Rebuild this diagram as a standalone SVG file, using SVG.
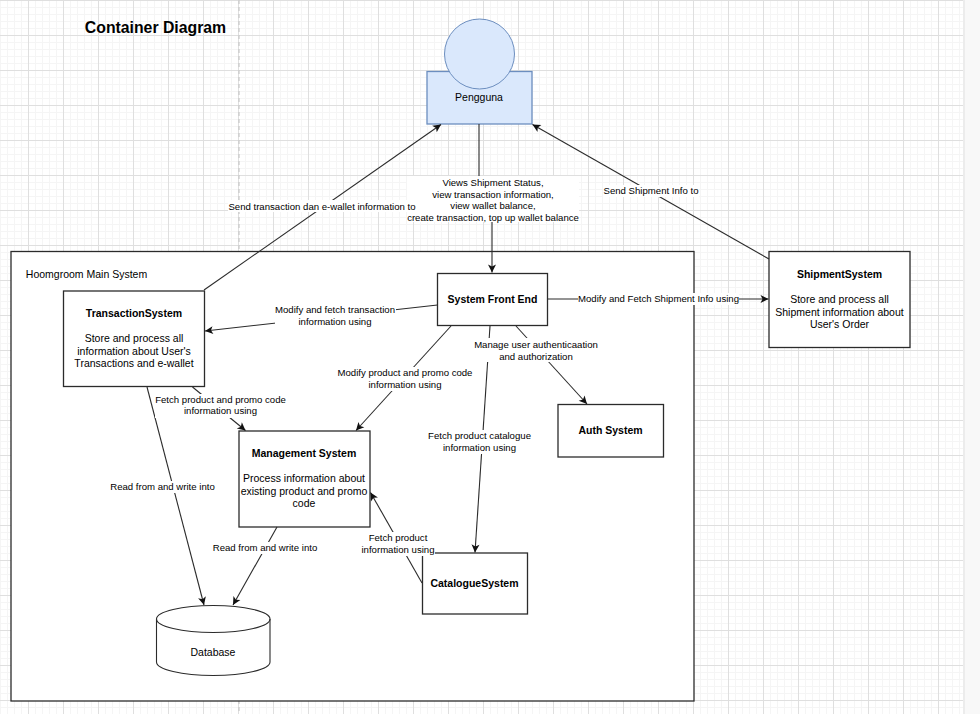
<svg xmlns="http://www.w3.org/2000/svg" width="980" height="714" viewBox="0 0 980 714">
<style>
text{font-family:"Liberation Sans",Arial,sans-serif;font-size:10.5px;fill:#000;text-anchor:middle}
.t{font-weight:bold}
.l{font-size:9.6px}
.b{fill:#fff;stroke:#2b2b2b;stroke-width:1.3}
.c{fill:none;stroke:#2b2b2b;stroke-width:1.1;marker-end:url(#arrow)}
.bg{fill:#fff}
</style>
<defs>
<marker id="arrow" markerUnits="userSpaceOnUse" markerWidth="10" markerHeight="10" refX="8.5" refY="4.5" orient="auto">
<path d="M8.5,4.5 L0.5,0.5 L2.5,4.5 L0.5,8.5 Z" fill="#111"/>
</marker>
<pattern id="grid" x="0" y="0" width="7" height="7" patternUnits="userSpaceOnUse">
<rect x="0" y="0" width="7" height="1" fill="#f5f5f5"/>
<rect x="0" y="0" width="1" height="7" fill="#f5f5f5"/>
</pattern>
<pattern id="major" x="28" y="0" width="35" height="35" patternUnits="userSpaceOnUse">
<rect x="0" y="0" width="35" height="1" fill="#dfdfdf"/>
<rect x="0" y="0" width="1" height="35" fill="#dfdfdf"/>
</pattern>
</defs>
<g id="background">
<rect width="980" height="714" fill="#fff"/>
<rect width="963" height="714" fill="url(#grid)"/>
<rect width="963" height="714" fill="url(#major)"/>
<rect x="963" y="0" width="2" height="714" fill="#ececec"/>
<rect x="965" y="0" width="15" height="714" fill="#f8f8f8"/>
<line x1="239" y1="0" x2="239" y2="714" stroke="#c9c9c9" stroke-width="1.2" stroke-dasharray="4 3"/>
</g>
<text x="155.500" y="33" class="t" style="font-size:15.8px">Container Diagram</text>
<g id="main-system">
<rect x="11" y="251.500" width="683" height="449.500" class="b"/>
<text x="86.500" y="278">Hoomgroom Main System</text>
</g>
<g id="pengguna">
<rect x="427" y="71.500" width="105" height="52.500" fill="#dae8fc" stroke="#6c8ebf" stroke-width="1.300"/>
<circle cx="479.500" cy="54" r="35" fill="#dae8fc" stroke="#6c8ebf" stroke-width="1"/>
<text x="479" y="101">Pengguna</text>
</g>
<g id="transaction-system">
<rect x="63.500" y="291" width="141" height="95.500" class="b"/>
<text x="134" y="316.500" class="t">TransactionSystem</text>
<text x="134" y="342">Store and process all</text>
<text x="134" y="355">information about User's</text>
<text x="134" y="367">Transactions and e-wallet</text>
</g>
<g id="front-end">
<rect x="437.500" y="273.500" width="110" height="52" class="b"/>
<text x="492.500" y="303" class="t">System Front End</text>
</g>
<g id="management-system">
<rect x="239" y="431" width="131" height="96" class="b"/>
<text x="304" y="457" class="t">Management System</text>
<text x="304" y="482">Process information about</text>
<text x="304" y="495">existing product and promo</text>
<text x="304" y="507">code</text>
</g>
<g id="auth-system">
<rect x="558" y="404.500" width="105.500" height="52.500" class="b"/>
<text x="610.500" y="434" class="t">Auth System</text>
</g>
<g id="catalogue-system">
<rect x="422.500" y="553" width="105" height="61" class="b"/>
<text x="474.500" y="587" class="t">CatalogueSystem</text>
</g>
<g id="shipment-system">
<rect x="769" y="251.500" width="141" height="96" class="b"/>
<text x="839.500" y="278" class="t">ShipmentSystem</text>
<text x="839.500" y="303">Store and process all</text>
<text x="839.500" y="316">Shipment information about</text>
<text x="839.500" y="328">User's Order</text>
</g>
<g id="database">
<path d="M156.500,619 A56.750,13.500 0 0 1 270,619 V662 A56.750,13.500 0 0 1 156.500,662 Z" fill="#fff" stroke="#2b2b2b" stroke-width="1.100"/>
<path d="M156.500,619 A56.750,13.500 0 0 0 270,619" fill="none" stroke="#2b2b2b" stroke-width="1.100"/>
<text x="213" y="656">Database</text>
</g>
<g id="connectors">
<line x1="204" y1="290" x2="441" y2="124.500" class="c"/>
<polyline points="479,124 479,198 492,198 492,272.500" class="c"/>
<line x1="769" y1="259" x2="532.500" y2="124.500" class="c"/>
<line x1="547.500" y1="299" x2="768.500" y2="299" class="c"/>
<line x1="437.500" y1="305" x2="205" y2="331" class="c"/>
<line x1="451" y1="326" x2="356" y2="430.500" class="c"/>
<line x1="516" y1="326" x2="587" y2="404" class="c"/>
<line x1="490" y1="326" x2="475" y2="552.500" class="c"/>
<line x1="422" y1="583" x2="370.500" y2="492.500" class="c"/>
<line x1="192.500" y1="387" x2="245.500" y2="430.500" class="c"/>
<line x1="147" y1="387" x2="204" y2="605" class="c"/>
<line x1="277" y1="527" x2="233" y2="605" class="c"/>
</g>
<g id="connector-labels">
<rect x="407" y="176" width="172" height="46" class="bg"/>
<text x="493" y="185.500" class="l">Views Shipment Status,</text>
<text x="493" y="197.500" class="l">view transaction information,</text>
<text x="493" y="208.500" class="l">view wallet balance,</text>
<text x="493" y="220.500" class="l">create transaction, top up wallet balance</text>
<rect x="228" y="200" width="188" height="12" class="bg"/>
<text x="322" y="210" class="l">Send transaction dan e-wallet information to</text>
<rect x="603" y="185" width="96" height="12" class="bg"/>
<text x="651" y="194" class="l">Send Shipment Info to</text>
<rect x="578" y="293" width="161" height="12" class="bg"/>
<text x="658.500" y="302" class="l">Modify and Fetch Shipment Info using</text>
<rect x="275" y="304" width="121" height="24" class="bg"/>
<text x="335" y="313" class="l">Modify and fetch transaction</text>
<text x="335" y="325" class="l">information using</text>
<rect x="337" y="367" width="136" height="24" class="bg"/>
<text x="405" y="376" class="l">Modify product and promo code</text>
<text x="405" y="388" class="l">information using</text>
<rect x="474" y="338" width="125" height="24" class="bg"/>
<text x="536" y="348" class="l">Manage user authenticaation</text>
<text x="536" y="360" class="l">and authorization</text>
<rect x="428" y="430" width="104" height="24" class="bg"/>
<text x="479.500" y="439" class="l">Fetch product catalogue</text>
<text x="479.500" y="451" class="l">information using</text>
<rect x="155" y="394" width="131" height="24" class="bg"/>
<text x="220.500" y="403" class="l">Fetch product and promo code</text>
<text x="220.500" y="414" class="l">information using</text>
<rect x="110" y="481" width="105" height="12" class="bg"/>
<text x="162.500" y="490" class="l">Read from and write into</text>
<rect x="213" y="542" width="105" height="12" class="bg"/>
<text x="265" y="551" class="l">Read from and write into</text>
<rect x="361" y="532" width="74" height="24" class="bg"/>
<text x="398" y="541" class="l">Fetch product</text>
<text x="398" y="553" class="l">information using</text>
</g>
</svg>
